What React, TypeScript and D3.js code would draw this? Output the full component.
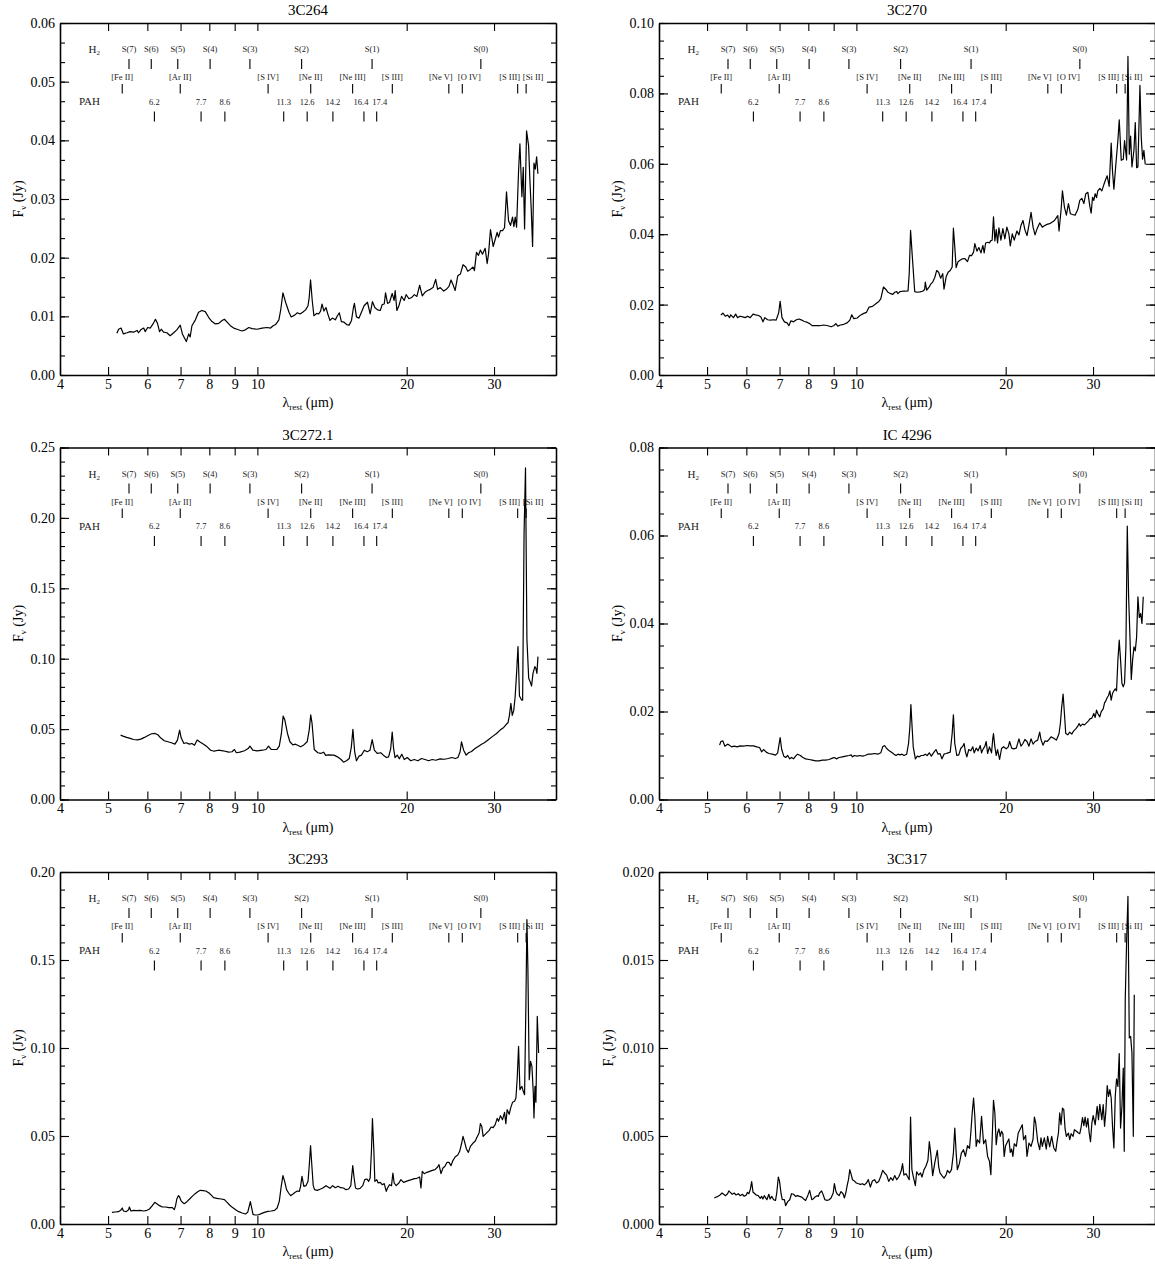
import React, { useEffect, useRef } from "react";
import * as d3 from "d3";

// line identifications drawn at the top of every panel
const h2Lines = [
  { label: "S(7)", wave: 5.51 }, { label: "S(6)", wave: 6.11 }, { label: "S(5)", wave: 6.91 },
  { label: "S(4)", wave: 8.03 }, { label: "S(3)", wave: 9.66 }, { label: "S(2)", wave: 12.28 },
  { label: "S(1)", wave: 17.03 }, { label: "S(0)", wave: 28.22 },
];
const ionLines = [
  { label: "[Fe II]", wave: 5.34 }, { label: "[Ar II]", wave: 6.99 }, { label: "[S IV]", wave: 10.51 },
  { label: "[Ne II]", wave: 12.81 }, { label: "[Ne III]", wave: 15.56 }, { label: "[S III]", wave: 18.71 },
  { label: "[Ne V]", wave: 24.32 }, { label: "[O IV]", wave: 25.89 }, { label: "[S III]", wave: 33.48 },
  { label: "[Si II]", wave: 34.82 },
];
const pahBands = [6.2, 7.7, 8.6, 11.3, 12.6, 14.2, 16.4, 17.4];

// axis ticks
const xTickValues = [4, 5, 6, 7, 8, 9, 10, 20, 30];

// panel settings
const panelNames = ["3C264", "3C270", "3C272.1", "IC 4296", "3C293", "3C317"];
const yMaxes = [0.06, 0.1, 0.25, 0.08, 0.2, 0.02];
const yMajorSteps = [0.01, 0.02, 0.05, 0.02, 0.05, 0.005];
const yMinorPerMajor = [3, 4, 5, 4, 5, 5];
const yDecimals = [2, 2, 2, 2, 2, 3];

// spectra: [rest wavelength (um), flux density (Jy)]
const spec3C264: [number, number][] = [
  [5.21,0.0071],[5.25,0.0078],[5.31,0.0080],[5.37,0.0070],[5.46,0.0072],[5.54,0.0074],[5.63,0.0073],[5.72,0.0076],[5.76,0.0072],[5.82,0.0077],
  [5.90,0.0080],[5.94,0.0074],[6.01,0.0081],[6.08,0.0080],[6.16,0.0087],[6.23,0.0095],[6.29,0.0088],[6.35,0.0074],[6.40,0.0078],[6.47,0.0073],
  [6.57,0.0072],[6.67,0.0067],[6.78,0.0072],[6.88,0.0077],[6.99,0.0085],[7.06,0.0070],[7.12,0.0064],[7.19,0.0057],[7.27,0.0070],[7.32,0.0065],
  [7.38,0.0084],[7.50,0.0094],[7.61,0.0107],[7.73,0.0110],[7.85,0.0108],[7.98,0.0098],[8.10,0.0091],[8.23,0.0087],[8.36,0.0088],[8.49,0.0093],
  [8.58,0.0095],[8.69,0.0090],[8.82,0.0084],[8.96,0.0080],[9.10,0.0078],[9.31,0.0075],[9.46,0.0077],[9.61,0.0081],[9.76,0.0079],[9.99,0.0078],
  [10.22,0.0080],[10.46,0.0081],[10.63,0.0080],[10.76,0.0084],[10.88,0.0086],[11.05,0.0094],[11.14,0.0110],[11.26,0.0140],[11.40,0.0124],[11.58,0.0107],
  [11.70,0.0099],[11.89,0.0102],[12.04,0.0106],[12.19,0.0104],[12.34,0.0107],[12.51,0.0111],[12.65,0.0118],[12.72,0.0132],[12.80,0.0162],[12.90,0.0127],
  [13.00,0.0101],[13.17,0.0105],[13.29,0.0104],[13.41,0.0109],[13.50,0.0121],[13.62,0.0109],[13.75,0.0115],[13.88,0.0103],[14.01,0.0093],[14.16,0.0097],
  [14.36,0.0094],[14.50,0.0101],[14.63,0.0106],[14.77,0.0091],[14.95,0.0090],[15.14,0.0086],[15.31,0.0085],[15.48,0.0093],[15.62,0.0115],[15.69,0.0122],
  [15.84,0.0099],[16.03,0.0097],[16.21,0.0107],[16.41,0.0118],[16.67,0.0124],[16.88,0.0104],[17.06,0.0125],[17.25,0.0115],[17.47,0.0111],[17.69,0.0110],
  [17.85,0.0120],[18.02,0.0121],[18.13,0.0140],[18.30,0.0122],[18.47,0.0124],[18.70,0.0139],[18.87,0.0127],[18.96,0.0144],[19.11,0.0110],[19.29,0.0118],
  [19.53,0.0134],[19.77,0.0127],[19.95,0.0137],[20.21,0.0130],[20.46,0.0132],[20.72,0.0137],[20.97,0.0134],[21.24,0.0153],[21.50,0.0135],[21.77,0.0141],
  [22.04,0.0144],[22.32,0.0146],[22.60,0.0149],[22.88,0.0163],[23.09,0.0146],[23.38,0.0149],[23.75,0.0143],[24.04,0.0146],[24.34,0.0151],[24.57,0.0162],
  [24.80,0.0154],[25.04,0.0144],[25.35,0.0169],[25.66,0.0172],[25.98,0.0188],[26.31,0.0184],[26.55,0.0177],[26.88,0.0180],[27.22,0.0184],[27.39,0.0178],
  [27.65,0.0209],[27.91,0.0204],[28.16,0.0213],[28.43,0.0206],[28.79,0.0216],[29.06,0.0190],[29.24,0.0206],[29.51,0.0248],[29.88,0.0219],[30.16,0.0231],
  [30.44,0.0243],[30.63,0.0235],[30.91,0.0246],[31.21,0.0246],[31.50,0.0251],[31.79,0.0312],[32.09,0.0263],[32.39,0.0255],[32.69,0.0269],[32.90,0.0253],
  [33.10,0.0269],[33.31,0.0252],[33.62,0.0348],[33.83,0.0394],[34.14,0.0304],[34.36,0.0354],[34.57,0.0249],[34.89,0.0416],[35.22,0.0391],[35.44,0.0331],
  [35.66,0.0281],[35.88,0.0219],[36.11,0.0361],[36.33,0.0351],[36.56,0.0372],[36.78,0.0343],
];

const spec3C270: [number, number][] = [
  [5.33,0.0170],[5.38,0.0176],[5.44,0.0167],[5.50,0.0170],[5.55,0.0163],[5.58,0.0171],[5.65,0.0163],[5.71,0.0173],[5.76,0.0163],[5.83,0.0167],
  [5.90,0.0165],[5.97,0.0163],[6.03,0.0167],[6.11,0.0163],[6.19,0.0173],[6.26,0.0171],[6.35,0.0169],[6.42,0.0165],[6.48,0.0151],[6.54,0.0163],
  [6.62,0.0157],[6.70,0.0156],[6.81,0.0157],[6.89,0.0156],[6.97,0.0176],[7.02,0.0209],[7.08,0.0163],[7.16,0.0151],[7.25,0.0148],[7.31,0.0140],
  [7.38,0.0154],[7.47,0.0151],[7.57,0.0157],[7.66,0.0159],[7.76,0.0156],[7.85,0.0152],[7.95,0.0150],[8.05,0.0146],[8.15,0.0140],[8.28,0.0140],
  [8.43,0.0140],[8.59,0.0142],[8.76,0.0140],[8.89,0.0137],[9.00,0.0140],[9.09,0.0146],[9.17,0.0139],[9.29,0.0142],[9.43,0.0144],[9.58,0.0148],
  [9.70,0.0156],[9.79,0.0171],[9.88,0.0160],[10.04,0.0162],[10.19,0.0170],[10.35,0.0175],[10.48,0.0178],[10.61,0.0193],[10.78,0.0195],[10.96,0.0203],
  [11.10,0.0209],[11.20,0.0216],[11.34,0.0250],[11.47,0.0243],[11.58,0.0235],[11.73,0.0231],[11.84,0.0229],[11.95,0.0235],[12.06,0.0237],[12.13,0.0231],
  [12.24,0.0237],[12.40,0.0238],[12.55,0.0238],[12.71,0.0239],[12.78,0.0288],[12.86,0.0411],[12.98,0.0326],[13.11,0.0237],[13.27,0.0235],[13.43,0.0236],
  [13.60,0.0238],[13.73,0.0243],[13.77,0.0264],[13.86,0.0241],[13.99,0.0248],[14.12,0.0258],[14.25,0.0264],[14.39,0.0277],[14.52,0.0297],[14.65,0.0292],
  [14.79,0.0275],[14.93,0.0288],[15.02,0.0244],[15.17,0.0279],[15.31,0.0292],[15.46,0.0297],[15.60,0.0307],[15.69,0.0417],[15.79,0.0364],[15.89,0.0305],
  [16.03,0.0322],[16.18,0.0326],[16.36,0.0330],[16.54,0.0331],[16.75,0.0322],[16.91,0.0340],[17.07,0.0339],[17.23,0.0349],[17.33,0.0373],[17.50,0.0352],
  [17.66,0.0362],[17.83,0.0347],[17.99,0.0368],[18.10,0.0347],[18.22,0.0375],[18.39,0.0377],[18.55,0.0375],[18.64,0.0381],[18.78,0.0383],[18.90,0.0449],
  [19.02,0.0381],[19.14,0.0413],[19.26,0.0375],[19.38,0.0418],[19.56,0.0383],[19.74,0.0416],[19.92,0.0387],[20.11,0.0420],[20.30,0.0401],[20.43,0.0367],
  [20.62,0.0401],[20.81,0.0383],[21.07,0.0409],[21.27,0.0398],[21.47,0.0425],[21.67,0.0439],[21.86,0.0413],[22.08,0.0396],[22.28,0.0426],[22.50,0.0462],
  [22.71,0.0420],[22.92,0.0398],[23.13,0.0415],[23.42,0.0432],[23.71,0.0420],[23.93,0.0424],[24.23,0.0428],[24.53,0.0430],[24.84,0.0435],[25.08,0.0439],
  [25.31,0.0447],[25.47,0.0453],[25.62,0.0409],[25.86,0.0468],[26.03,0.0523],[26.27,0.0477],[26.51,0.0454],[26.76,0.0487],[27.01,0.0458],[27.26,0.0456],
  [27.60,0.0454],[27.95,0.0470],[28.21,0.0496],[28.48,0.0502],[28.75,0.0487],[29.01,0.0515],[29.29,0.0519],[29.56,0.0479],[29.74,0.0460],[29.93,0.0505],
  [30.11,0.0496],[30.30,0.0515],[30.49,0.0504],[30.67,0.0523],[30.96,0.0530],[31.25,0.0523],[31.55,0.0541],[31.84,0.0557],[32.04,0.0566],[32.34,0.0536],
  [32.64,0.0659],[32.84,0.0579],[33.05,0.0528],[33.36,0.0600],[33.67,0.0666],[33.88,0.0725],[34.20,0.0610],[34.52,0.0613],[34.73,0.0666],[35.06,0.0611],
  [35.28,0.0905],[35.50,0.0627],[35.72,0.0679],[35.94,0.0591],[36.28,0.0640],[36.50,0.0717],[36.73,0.0589],[36.95,0.0591],[37.30,0.0823],[37.53,0.0674],
  [37.76,0.0613],[37.99,0.0638],[38.23,0.0598],
];

const spec3C2721: [number, number][] = [
  [5.30,0.0457],[5.36,0.0450],[5.45,0.0441],[5.54,0.0434],[5.63,0.0426],[5.73,0.0424],[5.82,0.0429],[5.92,0.0441],[6.02,0.0455],[6.12,0.0467],
  [6.22,0.0469],[6.30,0.0460],[6.38,0.0438],[6.49,0.0417],[6.60,0.0410],[6.71,0.0403],[6.82,0.0393],[6.90,0.0422],[6.97,0.0493],[7.02,0.0438],
  [7.11,0.0398],[7.19,0.0403],[7.29,0.0393],[7.38,0.0398],[7.47,0.0386],[7.56,0.0422],[7.66,0.0408],[7.79,0.0393],[7.92,0.0374],[8.05,0.0350],
  [8.18,0.0343],[8.35,0.0350],[8.53,0.0346],[8.75,0.0336],[8.89,0.0339],[8.99,0.0355],[9.07,0.0332],[9.22,0.0336],[9.42,0.0346],[9.58,0.0362],
  [9.66,0.0379],[9.79,0.0350],[9.99,0.0346],[10.24,0.0350],[10.41,0.0355],[10.53,0.0379],[10.67,0.0355],[10.94,0.0355],[11.07,0.0379],[11.18,0.0469],
  [11.27,0.0593],[11.36,0.0564],[11.50,0.0469],[11.63,0.0410],[11.79,0.0388],[11.94,0.0393],[12.08,0.0384],[12.22,0.0374],[12.39,0.0386],[12.60,0.0410],
  [12.72,0.0493],[12.81,0.0602],[12.89,0.0540],[13.02,0.0355],[13.24,0.0332],[13.42,0.0327],[13.60,0.0336],[13.73,0.0313],[13.91,0.0317],[14.27,0.0315],
  [14.50,0.0303],[14.75,0.0284],[14.92,0.0265],[15.12,0.0275],[15.32,0.0291],[15.47,0.0374],[15.58,0.0498],[15.71,0.0339],[15.84,0.0275],[16.03,0.0308],
  [16.21,0.0315],[16.43,0.0350],[16.65,0.0339],[16.87,0.0350],[17.04,0.0426],[17.21,0.0350],[17.44,0.0327],[17.73,0.0332],[17.97,0.0313],[18.21,0.0298],
  [18.39,0.0303],[18.57,0.0362],[18.70,0.0479],[18.82,0.0362],[18.95,0.0298],[19.14,0.0315],[19.33,0.0289],[19.55,0.0322],[19.78,0.0284],[20.05,0.0298],
  [20.38,0.0275],[20.72,0.0284],[21.07,0.0275],[21.42,0.0291],[21.78,0.0284],[22.14,0.0275],[22.52,0.0284],[22.89,0.0279],[23.35,0.0289],[23.82,0.0286],
  [24.26,0.0291],[24.66,0.0298],[25.08,0.0291],[25.37,0.0298],[25.63,0.0339],[25.79,0.0410],[26.05,0.0350],[26.36,0.0315],[26.66,0.0332],[27.02,0.0341],
  [27.47,0.0362],[27.93,0.0379],[28.31,0.0393],[28.68,0.0403],[29.26,0.0426],[29.85,0.0450],[30.35,0.0469],[30.86,0.0493],[31.38,0.0512],[31.79,0.0536],
  [32.01,0.0545],[32.22,0.0597],[32.44,0.0683],[32.65,0.0597],[32.87,0.0631],[33.09,0.0730],[33.31,0.0896],[33.53,0.1086],[33.76,0.0735],[34.09,0.0706],
  [34.26,0.0706],[34.49,0.1893],[34.72,0.2356],[34.95,0.1134],[35.24,0.0861],[35.53,0.0830],[35.71,0.0806],[35.95,0.0896],[36.25,0.0944],[36.43,0.0932],
  [36.61,0.0896],[36.79,0.1015],
];

const specIC4296: [number, number][] = [
  [5.30,0.01235],[5.33,0.01318],[5.38,0.01333],[5.43,0.01212],[5.50,0.01258],[5.55,0.01235],[5.60,0.01197],[5.67,0.01212],[5.75,0.01197],[5.83,0.0122],
  [5.92,0.01212],[6.02,0.01227],[6.11,0.0122],[6.20,0.0122],[6.30,0.01197],[6.38,0.01182],[6.44,0.01083],[6.50,0.01136],[6.58,0.01076],[6.66,0.01045],
  [6.77,0.0103],[6.87,0.01008],[6.94,0.01061],[6.98,0.01235],[7.02,0.01409],[7.07,0.01136],[7.14,0.00985],[7.20,0.00955],[7.27,0.0100],[7.34,0.00924],
  [7.40,0.00955],[7.47,0.00924],[7.54,0.00985],[7.61,0.0103],[7.71,0.0100],[7.80,0.00955],[7.90,0.00924],[8.03,0.00909],[8.15,0.00894],[8.28,0.00879],
  [8.41,0.00879],[8.54,0.00894],[8.67,0.00894],[8.81,0.00909],[8.95,0.00939],[9.03,0.00955],[9.11,0.00924],[9.23,0.00955],[9.37,0.0097],[9.52,0.00985],
  [9.67,0.0100],[9.76,0.01015],[9.82,0.0097],[9.91,0.0100],[10.04,0.00985],[10.16,0.0100],[10.29,0.00985],[10.41,0.0100],[10.55,0.0103],[10.71,0.0103],
  [10.88,0.01045],[11.05,0.0103],[11.20,0.01061],[11.30,0.01197],[11.40,0.01227],[11.51,0.01159],[11.65,0.01106],[11.81,0.01061],[11.91,0.0103],[12.02,0.0100],
  [12.13,0.0103],[12.24,0.01015],[12.36,0.0103],[12.47,0.0100],[12.63,0.0103],[12.74,0.01273],[12.82,0.01652],[12.88,0.02159],[12.94,0.01727],[13.02,0.01197],
  [13.15,0.00924],[13.27,0.00985],[13.39,0.0097],[13.51,0.0100],[13.64,0.0100],[13.77,0.0103],[13.89,0.0100],[14.03,0.01061],[14.16,0.00985],[14.34,0.01076],
  [14.47,0.01136],[14.61,0.0103],[14.74,0.01045],[14.88,0.00924],[15.02,0.0103],[15.17,0.01045],[15.31,0.01061],[15.46,0.01076],[15.60,0.015],[15.69,0.01924],
  [15.79,0.01273],[15.94,0.0100],[16.09,0.01015],[16.23,0.01159],[16.39,0.01212],[16.49,0.01273],[16.59,0.01083],[16.70,0.0097],[16.85,0.01136],[17.01,0.01106],
  [17.17,0.01197],[17.28,0.01061],[17.44,0.01167],[17.60,0.01106],[17.77,0.01227],[17.88,0.01061],[17.99,0.01136],[18.16,0.01212],[18.27,0.01318],[18.39,0.01045],
  [18.55,0.01197],[18.73,0.01061],[18.84,0.01394],[18.90,0.015],[19.02,0.01197],[19.14,0.0100],[19.26,0.01136],[19.44,0.00909],[19.62,0.01159],[19.80,0.01197],
  [20.05,0.01152],[20.24,0.01197],[20.37,0.01318],[20.56,0.01167],[20.75,0.01152],[21.01,0.01167],[21.27,0.01379],[21.47,0.01212],[21.67,0.01273],[21.87,0.01364],
  [22.08,0.01318],[22.28,0.01212],[22.50,0.01379],[22.71,0.01258],[22.92,0.01318],[23.20,0.01349],[23.42,0.0153],[23.56,0.01364],[23.78,0.01235],[24.01,0.01333],
  [24.23,0.01318],[24.46,0.01364],[24.69,0.01424],[25.00,0.01394],[25.31,0.01349],[25.47,0.01424],[25.62,0.015],[25.78,0.01727],[25.94,0.02106],[26.11,0.02394],
  [26.27,0.01955],[26.43,0.015],[26.68,0.0147],[26.93,0.0153],[27.18,0.01485],[27.43,0.01561],[27.69,0.01606],[27.95,0.01667],[28.12,0.01727],[28.30,0.01667],
  [28.57,0.01712],[28.83,0.01697],[29.10,0.01742],[29.38,0.01788],[29.56,0.01833],[29.84,0.01849],[30.11,0.01955],[30.30,0.01864],[30.49,0.0203],[30.67,0.01955],
  [30.96,0.01879],[31.15,0.01992],[31.45,0.02061],[31.65,0.02197],[31.84,0.02242],[32.04,0.02318],[32.24,0.02364],[32.44,0.0247],[32.64,0.02258],[32.84,0.02409],
  [33.05,0.0247],[33.26,0.02515],[33.46,0.0247],[33.67,0.03167],[33.88,0.03621],[34.09,0.03167],[34.31,0.02636],[34.52,0.02561],[34.73,0.02652],[34.95,0.03485],
  [35.17,0.06212],[35.39,0.04606],[35.61,0.03697],[35.83,0.02727],[36.05,0.03167],[36.28,0.0347],[36.50,0.03379],[36.73,0.03697],[36.95,0.04606],[37.19,0.04136],
  [37.42,0.04227],[37.65,0.0400],[37.88,0.04606],
];

const spec3C293: [number, number][] = [
  [5.09,0.00663],[5.17,0.00682],[5.25,0.00701],[5.30,0.00777],[5.34,0.00909],[5.37,0.00739],[5.44,0.00701],[5.50,0.00814],[5.52,0.00966],[5.56,0.00739],
  [5.63,0.00777],[5.72,0.00758],[5.80,0.00777],[5.90,0.00739],[5.99,0.00777],[6.06,0.00852],[6.14,0.01042],[6.21,0.01231],[6.27,0.01155],[6.35,0.01042],
  [6.43,0.00966],[6.53,0.00966],[6.63,0.00928],[6.74,0.00928],[6.80,0.00814],[6.84,0.01042],[6.88,0.0142],[6.93,0.0161],[6.97,0.01534],[7.01,0.01345],
  [7.06,0.01231],[7.12,0.01155],[7.21,0.01269],[7.30,0.0142],[7.39,0.01572],[7.49,0.01724],[7.58,0.01837],[7.67,0.01913],[7.77,0.01894],[7.87,0.01875],
  [7.99,0.01761],[8.09,0.0161],[8.16,0.01496],[8.29,0.01458],[8.45,0.0142],[8.58,0.01383],[8.69,0.01231],[8.79,0.0108],[8.90,0.00947],[9.04,0.00814],
  [9.17,0.00701],[9.32,0.00625],[9.46,0.00568],[9.56,0.00663],[9.61,0.00909],[9.68,0.01269],[9.74,0.00909],[9.80,0.00549],[9.89,0.00511],[10.02,0.00511],
  [10.18,0.00587],[10.33,0.00663],[10.50,0.0072],[10.66,0.00739],[10.83,0.00777],[10.96,0.00909],[11.07,0.01288],[11.17,0.0214],[11.26,0.02746],[11.35,0.02424],
  [11.45,0.01951],[11.56,0.01761],[11.67,0.0161],[11.78,0.01686],[11.92,0.01799],[12.04,0.01875],[12.15,0.01856],[12.22,0.0214],[12.30,0.02708],[12.41,0.0214],
  [12.53,0.02178],[12.65,0.02424],[12.72,0.03277],[12.80,0.04451],[12.88,0.03277],[12.96,0.02178],[13.04,0.01951],[13.21,0.01913],[13.41,0.01989],[13.58,0.02064],
  [13.75,0.02178],[13.88,0.02102],[14.01,0.02027],[14.18,0.02178],[14.36,0.02064],[14.54,0.0214],[14.72,0.02064],[14.91,0.02046],[15.09,0.01951],[15.28,0.01989],
  [15.43,0.02178],[15.57,0.03315],[15.67,0.02614],[15.77,0.02046],[15.91,0.01989],[16.11,0.02027],[16.31,0.02178],[16.46,0.02519],[16.62,0.02557],[16.77,0.02424],
  [16.88,0.02614],[16.98,0.04129],[17.06,0.05985],[17.17,0.04224],[17.25,0.02424],[17.41,0.02519],[17.52,0.0233],[17.69,0.02368],[17.85,0.02235],[18.02,0.02292],
  [18.19,0.01856],[18.30,0.02046],[18.47,0.02235],[18.64,0.02178],[18.76,0.02898],[18.87,0.0233],[19.05,0.02178],[19.29,0.0233],[19.47,0.02519],[19.71,0.02368],
  [19.95,0.02424],[20.21,0.02481],[20.46,0.02519],[20.72,0.02576],[20.97,0.02595],[21.24,0.02671],[21.37,0.02046],[21.50,0.02993],[21.70,0.0286],[21.97,0.02936],
  [22.25,0.02993],[22.53,0.03049],[22.81,0.03087],[23.09,0.03239],[23.24,0.03371],[23.45,0.0286],[23.67,0.03182],[23.89,0.03277],[24.12,0.03504],[24.34,0.03504],
  [24.57,0.03315],[24.80,0.03618],[25.04,0.03807],[25.35,0.03921],[25.58,0.04129],[25.82,0.04602],[25.98,0.04981],[26.15,0.04697],[26.39,0.04262],[26.63,0.04072],
  [26.88,0.04413],[27.22,0.04602],[27.48,0.04697],[27.73,0.04943],[27.99,0.05171],[28.16,0.05701],[28.34,0.05549],[28.52,0.04981],[28.79,0.05095],[29.06,0.05209],
  [29.33,0.05322],[29.60,0.05512],[29.88,0.05474],[30.16,0.05644],[30.44,0.06004],[30.63,0.05834],[30.91,0.06156],[31.21,0.05928],[31.50,0.06345],[31.69,0.05701],
  [31.89,0.06496],[32.19,0.06231],[32.39,0.06572],[32.69,0.06913],[33.00,0.0697],[33.21,0.07159],[33.41,0.08296],[33.62,0.10095],[33.83,0.07633],[34.14,0.07822],
  [34.36,0.07538],[34.57,0.07349],[34.78,0.12368],[34.95,0.17292],[35.11,0.14451],[35.33,0.08201],[35.55,0.09243],[35.77,0.08959],[36.00,0.07443],[36.11,0.06023],
  [36.28,0.07822],[36.44,0.06913],[36.67,0.118],[36.90,0.09716],
];

const spec3C317: [number, number][] = [
  [5.17,0.00148],[5.22,0.00153],[5.26,0.00157],[5.31,0.00165],[5.36,0.00176],[5.40,0.00169],[5.45,0.00161],[5.50,0.00172],[5.53,0.00188],[5.57,0.0018],
  [5.62,0.00169],[5.67,0.00176],[5.72,0.00165],[5.78,0.00172],[5.83,0.00161],[5.89,0.00169],[5.94,0.00157],[6.00,0.00165],[6.03,0.0018],[6.07,0.00172],
  [6.11,0.00195],[6.15,0.00241],[6.19,0.0018],[6.22,0.00176],[6.28,0.00165],[6.34,0.00161],[6.40,0.00146],[6.44,0.00157],[6.48,0.00142],[6.52,0.00161],
  [6.56,0.0015],[6.60,0.00138],[6.66,0.00169],[6.70,0.00142],[6.75,0.00157],[6.81,0.00138],[6.87,0.00134],[6.91,0.00176],[6.96,0.00267],[7.00,0.00242],
  [7.05,0.00172],[7.09,0.00138],[7.16,0.00138],[7.20,0.00104],[7.27,0.00127],[7.34,0.00138],[7.40,0.00172],[7.47,0.00169],[7.54,0.00157],[7.61,0.00161],
  [7.68,0.00157],[7.76,0.00153],[7.83,0.00142],[7.90,0.00134],[7.97,0.00157],[8.05,0.00191],[8.13,0.00138],[8.18,0.00142],[8.25,0.00153],[8.33,0.00161],
  [8.38,0.00157],[8.43,0.00176],[8.51,0.00188],[8.57,0.00167],[8.64,0.00138],[8.73,0.00134],[8.81,0.00138],[8.89,0.00148],[8.98,0.00176],[9.03,0.00229],
  [9.09,0.00188],[9.14,0.00172],[9.23,0.00161],[9.31,0.00184],[9.40,0.00172],[9.46,0.00148],[9.52,0.00176],[9.58,0.00218],[9.64,0.00252],[9.70,0.00309],
  [9.76,0.00282],[9.82,0.00252],[9.91,0.00244],[10.00,0.00233],[10.10,0.00229],[10.19,0.00225],[10.29,0.00229],[10.38,0.00222],[10.48,0.00233],[10.57,0.00252],
  [10.67,0.0021],[10.77,0.00244],[10.88,0.00252],[10.98,0.00233],[11.09,0.00241],[11.20,0.00271],[11.30,0.00305],[11.40,0.0029],[11.51,0.00278],[11.62,0.00242],
  [11.73,0.00263],[11.84,0.00248],[11.95,0.00275],[12.06,0.00252],[12.17,0.00267],[12.24,0.00282],[12.32,0.00305],[12.39,0.00343],[12.47,0.00278],[12.59,0.00286],
  [12.67,0.00271],[12.78,0.00252],[12.86,0.00608],[12.94,0.00309],[13.02,0.00271],[13.15,0.00218],[13.23,0.00297],[13.35,0.00278],[13.47,0.0029],[13.56,0.00267],
  [13.69,0.00309],[13.81,0.00328],[13.94,0.00362],[14.03,0.00468],[14.12,0.00403],[14.25,0.00275],[14.39,0.00347],[14.56,0.00419],[14.65,0.00328],[14.74,0.0029],
  [14.88,0.00275],[15.02,0.00261],[15.17,0.0028],[15.26,0.00305],[15.41,0.0029],[15.55,0.00309],[15.69,0.00403],[15.79,0.00545],[15.89,0.00407],[15.98,0.00309],
  [16.13,0.00343],[16.28,0.00403],[16.44,0.00422],[16.59,0.00384],[16.75,0.00445],[16.91,0.0043],[17.01,0.00517],[17.12,0.00631],[17.23,0.00716],[17.33,0.00612],
  [17.44,0.00441],[17.55,0.00479],[17.72,0.0046],[17.88,0.00612],[18.05,0.00456],[18.22,0.00479],[18.39,0.00384],[18.55,0.00356],[18.67,0.0028],[18.78,0.00479],
  [18.90,0.00703],[19.02,0.00631],[19.14,0.00451],[19.26,0.00517],[19.38,0.0054],[19.50,0.00498],[19.62,0.00527],[19.74,0.00513],[19.86,0.00384],[19.99,0.00445],
  [20.11,0.0046],[20.30,0.00483],[20.43,0.00407],[20.56,0.00426],[20.68,0.00384],[20.81,0.00456],[21.01,0.00441],[21.20,0.00517],[21.40,0.0054],[21.60,0.00564],
  [21.73,0.00479],[21.94,0.00502],[22.08,0.00384],[22.28,0.0046],[22.50,0.00441],[22.71,0.00483],[22.85,0.00608],[22.99,0.00574],[23.20,0.0047],[23.42,0.00422],
  [23.56,0.00489],[23.71,0.00441],[23.93,0.00489],[24.15,0.00426],[24.30,0.00498],[24.53,0.00438],[24.76,0.00498],[25.00,0.00432],[25.23,0.00413],[25.39,0.0047],
  [25.55,0.00517],[25.70,0.00631],[25.86,0.00564],[26.03,0.00659],[26.19,0.0065],[26.35,0.0054],[26.51,0.00498],[26.76,0.00517],[26.93,0.00479],[27.10,0.00513],
  [27.35,0.00498],[27.52,0.00536],[27.78,0.00527],[28.04,0.00517],[28.21,0.00513],[28.39,0.00551],[28.57,0.00604],[28.75,0.00559],[28.92,0.00608],[29.10,0.00551],
  [29.29,0.006],[29.47,0.00517],[29.65,0.00468],[29.84,0.00574],[30.02,0.00616],[30.30,0.00563],[30.58,0.00669],[30.77,0.00593],[30.96,0.0068],[31.25,0.00593],
  [31.45,0.00678],[31.65,0.00555],[31.84,0.0064],[32.04,0.00786],[32.24,0.00725],[32.44,0.00763],[32.64,0.00716],[32.84,0.00555],[33.05,0.00432],[33.26,0.00725],
  [33.46,0.00824],[33.67,0.00782],[33.88,0.00968],[34.09,0.00545],[34.31,0.00669],[34.52,0.00886],[34.68,0.00413],[34.84,0.01275],[35.06,0.01606],[35.28,0.01862],
  [35.50,0.01057],[35.72,0.01066],[35.94,0.00972],[36.17,0.00498],[36.33,0.01303],
];

const spectra = [spec3C264, spec3C270, spec3C2721, specIC4296, spec3C293, spec3C317];

// small nudges so the crowded labels do not overlap (px)
const labelNudge: Record<string, number> = { "[Ne V]": -8, "[O IV]": 7, "[S III]@33.48": -8, "[Si II]": 7, "16.4": -3, "17.4": 3 };

const W = 1155;
const H = 1266;
const colLeft = [60, 659];
const rowTop = [23, 447.5, 872];
const plotW = 496;
const plotH = 352;
const FONT = "Liberation Serif, Times New Roman, serif";

const App = () => {
  const svgRef = useRef<SVGSVGElement>(null);

  useEffect(() => {
    const svg = d3.select(svgRef.current);
    svg.selectAll("*").remove();

    panelNames.forEach((name, i) => {
      const left = colLeft[i % 2];
      const top = rowTop[Math.floor(i / 2)];
      const x = d3.scaleLog().domain([4, 40]).range([left, left + plotW]);
      const y = d3.scaleLinear().domain([0, yMaxes[i]]).range([top + plotH, top]);

      const g = svg.append("g");

      // y tick values
      const nMinor = Math.round((yMaxes[i] / yMajorSteps[i]) * yMinorPerMajor[i]);
      const minorVals = d3.range(nMinor + 1).map((k) => (k * yMajorSteps[i]) / yMinorPerMajor[i]);
      const majorVals = minorVals.filter((_, k) => k % yMinorPerMajor[i] === 0);
      const fmt = d3.format(`.${yDecimals[i]}f`);

      // axes (ticks point inward)
      g.append("g").attr("class", "ax").attr("transform", `translate(0,${top + plotH})`)
        .call(d3.axisBottom(x).tickValues(xTickValues).tickFormat(d3.format("d")).tickSizeInner(-8).tickSizeOuter(0).tickPadding(4));
      g.append("g").attr("class", "ax").attr("transform", `translate(0,${top})`)
        .call(d3.axisTop(x).tickValues(xTickValues).tickFormat(() => "").tickSizeInner(-8).tickSizeOuter(0));
      g.append("g").attr("class", "ax").attr("transform", `translate(${left},0)`)
        .call(d3.axisLeft(y).tickValues(majorVals).tickFormat((d) => fmt(d as number)).tickSizeInner(-9).tickSizeOuter(0).tickPadding(5));
      g.append("g").attr("class", "ax").attr("transform", `translate(${left},0)`)
        .call(d3.axisLeft(y).tickValues(minorVals).tickFormat(() => "").tickSizeInner(-5).tickSizeOuter(0));
      g.append("g").attr("class", "ax").attr("transform", `translate(${left + plotW},0)`)
        .call(d3.axisRight(y).tickValues(majorVals).tickFormat(() => "").tickSizeInner(-9).tickSizeOuter(0));
      g.append("g").attr("class", "ax").attr("transform", `translate(${left + plotW},0)`)
        .call(d3.axisRight(y).tickValues(minorVals).tickFormat(() => "").tickSizeInner(-5).tickSizeOuter(0));

      g.selectAll(".ax").attr("font-family", null).attr("font-size", 14);
      g.selectAll(".domain").attr("stroke", "#000").attr("stroke-width", 1.3);
      g.selectAll(".tick line").attr("stroke", "#000").attr("stroke-width", 1.1);
      g.selectAll(".tick text").attr("fill", "#000");

      // title
      g.append("text").attr("x", left + plotW / 2).attr("y", top - 8).attr("text-anchor", "middle")
        .attr("font-size", 15).text(name);

      // x label
      const xl = g.append("text").attr("x", left + plotW / 2).attr("y", top + plotH + 32)
        .attr("text-anchor", "middle").attr("font-size", 14);
      xl.append("tspan").text("λ");
      xl.append("tspan").attr("font-size", 9).attr("dy", 3).text("rest");
      xl.append("tspan").attr("dy", -3).text(" (μm)");

      // y label (moves out further when the tick labels are wider)
      const yl = g.append("text")
        .attr("transform", `translate(${left - 37 - (yDecimals[i] - 2) * 9},${top + plotH / 2}) rotate(-90)`)
        .attr("text-anchor", "middle").attr("font-size", 14);
      yl.append("tspan").text("F");
      yl.append("tspan").attr("font-size", 9).attr("dy", 3).text("ν");
      yl.append("tspan").attr("dy", -3).text(" (Jy)");

      // feature markers
      const marks = g.append("g").attr("font-size", 8.5).attr("text-anchor", "middle").attr("fill", "#222");
      const h2t = marks.append("text").attr("x", left + 40).attr("y", top + 30).attr("text-anchor", "end").attr("font-size", 11);
      h2t.append("tspan").text("H");
      h2t.append("tspan").attr("font-size", 7).attr("dy", 2).text("2");
      marks.append("text").attr("x", left + 40).attr("y", top + 82).attr("text-anchor", "end").attr("font-size", 11).text("PAH");

      h2Lines.forEach((l) => {
        marks.append("text").attr("x", x(l.wave)).attr("y", top + 29).text(l.label);
        marks.append("line").attr("x1", x(l.wave)).attr("x2", x(l.wave)).attr("y1", top + 36).attr("y2", top + 46)
          .attr("stroke", "#000").attr("stroke-width", 1.1);
      });
      ionLines.forEach((l) => {
        const key = l.label === "[S III]" && l.wave > 30 ? "[S III]@33.48" : l.label;
        const dx = labelNudge[key] || 0;
        marks.append("text").attr("x", x(l.wave) + dx).attr("y", top + 57).text(l.label);
        marks.append("line").attr("x1", x(l.wave)).attr("x2", x(l.wave)).attr("y1", top + 61).attr("y2", top + 70.5)
          .attr("stroke", "#000").attr("stroke-width", 1.1);
      });
      pahBands.forEach((w) => {
        const lab = w.toFixed(1);
        const dx = labelNudge[lab] || 0;
        marks.append("text").attr("x", x(w) + dx).attr("y", top + 81.5).text(lab);
        marks.append("line").attr("x1", x(w)).attr("x2", x(w)).attr("y1", top + 88.5).attr("y2", top + 98.5)
          .attr("stroke", "#000").attr("stroke-width", 1.1);
      });

      // spectrum
      const line = d3.line<[number, number]>().x((d) => x(d[0])).y((d) => y(d[1]));
      g.append("path").datum(spectra[i]).attr("d", line).attr("fill", "none")
        .attr("stroke", "#000").attr("stroke-width", 1.2).attr("stroke-linejoin", "round");
    });
  }, []);

  return (
    <svg ref={svgRef} width={W} height={H}
      style={{ position: "absolute", left: 0, top: 0, background: "#fff", display: "block", fontFamily: FONT }} />
  );
};

export default App;
